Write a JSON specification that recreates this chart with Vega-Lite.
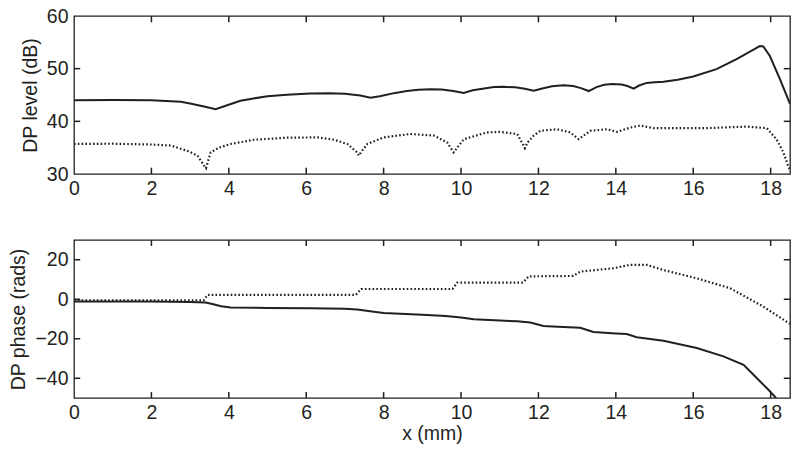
{
  "$schema": "https://vega.github.io/schema/vega-lite/v6.json",
  "padding": {"left": 8, "top": 5, "right": 5, "bottom": 5},
  "background": "white",
  "config": {
    "font": "Liberation Sans",
    "view": {"stroke": "#231f20", "strokeWidth": 1.3},
    "axis": {
      "labelFont": "Liberation Sans", "labelFontSize": 19.5, "labelColor": "#231f20",
      "titleFont": "Liberation Sans", "titleFontSize": 19.5, "titleFontWeight": "normal", "titleColor": "#231f20",
      "ticks": false, "labelPadding": 5,
      "domain": false, "grid": false, "labelFlush": false, "labelOverlap": false
    }
  },
  "datasets": {
    "xt": [{"x": 2}, {"x": 4}, {"x": 6}, {"x": 8}, {"x": 10}, {"x": 12}, {"x": 14}, {"x": 16}, {"x": 18}],
    "ytl": [{"y": 40}, {"y": 50}],
    "ytp": [{"y": -40}, {"y": -20}, {"y": 0}, {"y": 20}],
    "level": [
      {"s": "solid", "x": 0, "y": 44.0}, {"s": "solid", "x": 1, "y": 44.05}, {"s": "solid", "x": 2, "y": 44.0},
      {"s": "solid", "x": 2.5, "y": 43.8}, {"s": "solid", "x": 2.76, "y": 43.7}, {"s": "solid", "x": 3.0, "y": 43.4},
      {"s": "solid", "x": 3.36, "y": 42.8}, {"s": "solid", "x": 3.66, "y": 42.3}, {"s": "solid", "x": 3.9, "y": 42.9},
      {"s": "solid", "x": 4.3, "y": 43.9}, {"s": "solid", "x": 4.6, "y": 44.3}, {"s": "solid", "x": 5.0, "y": 44.75},
      {"s": "solid", "x": 5.5, "y": 45.05}, {"s": "solid", "x": 6.1, "y": 45.3}, {"s": "solid", "x": 6.6, "y": 45.35},
      {"s": "solid", "x": 7.0, "y": 45.25}, {"s": "solid", "x": 7.4, "y": 44.9}, {"s": "solid", "x": 7.66, "y": 44.5},
      {"s": "solid", "x": 7.9, "y": 44.75}, {"s": "solid", "x": 8.3, "y": 45.4}, {"s": "solid", "x": 8.6, "y": 45.75},
      {"s": "solid", "x": 8.9, "y": 46.0}, {"s": "solid", "x": 9.2, "y": 46.1}, {"s": "solid", "x": 9.5, "y": 46.05},
      {"s": "solid", "x": 9.8, "y": 45.75}, {"s": "solid", "x": 10.07, "y": 45.4}, {"s": "solid", "x": 10.3, "y": 45.9},
      {"s": "solid", "x": 10.6, "y": 46.25}, {"s": "solid", "x": 10.85, "y": 46.5}, {"s": "solid", "x": 11.1, "y": 46.55},
      {"s": "solid", "x": 11.4, "y": 46.45}, {"s": "solid", "x": 11.65, "y": 46.2}, {"s": "solid", "x": 11.88, "y": 45.8},
      {"s": "solid", "x": 12.1, "y": 46.25}, {"s": "solid", "x": 12.35, "y": 46.65}, {"s": "solid", "x": 12.65, "y": 46.86},
      {"s": "solid", "x": 12.9, "y": 46.7}, {"s": "solid", "x": 13.1, "y": 46.3}, {"s": "solid", "x": 13.3, "y": 45.75},
      {"s": "solid", "x": 13.5, "y": 46.5}, {"s": "solid", "x": 13.7, "y": 46.95}, {"s": "solid", "x": 13.9, "y": 47.1},
      {"s": "solid", "x": 14.15, "y": 47.0}, {"s": "solid", "x": 14.3, "y": 46.7}, {"s": "solid", "x": 14.46, "y": 46.2},
      {"s": "solid", "x": 14.6, "y": 46.8}, {"s": "solid", "x": 14.8, "y": 47.3}, {"s": "solid", "x": 15.0, "y": 47.4},
      {"s": "solid", "x": 15.23, "y": 47.5}, {"s": "solid", "x": 15.6, "y": 47.9},
      {"s": "solid", "x": 16.0, "y": 48.5}, {"s": "solid", "x": 16.6, "y": 49.9}, {"s": "solid", "x": 17.12, "y": 51.8},
      {"s": "solid", "x": 17.5, "y": 53.4}, {"s": "solid", "x": 17.72, "y": 54.3}, {"s": "solid", "x": 17.81, "y": 54.2},
      {"s": "solid", "x": 17.98, "y": 52.4}, {"s": "solid", "x": 18.24, "y": 48.0}, {"s": "solid", "x": 18.5, "y": 43.3},
      {"s": "dotted", "x": 0, "y": 35.7}, {"s": "dotted", "x": 1, "y": 35.75}, {"s": "dotted", "x": 2, "y": 35.6},
      {"s": "dotted", "x": 2.5, "y": 35.4}, {"s": "dotted", "x": 2.93, "y": 34.4}, {"s": "dotted", "x": 3.19, "y": 33.5},
      {"s": "dotted", "x": 3.36, "y": 31.6}, {"s": "dotted", "x": 3.41, "y": 31.1}, {"s": "dotted", "x": 3.53, "y": 34.1},
      {"s": "dotted", "x": 3.75, "y": 35.0}, {"s": "dotted", "x": 4.05, "y": 35.7}, {"s": "dotted", "x": 4.65, "y": 36.5},
      {"s": "dotted", "x": 5.5, "y": 36.9}, {"s": "dotted", "x": 6.3, "y": 36.95}, {"s": "dotted", "x": 6.72, "y": 36.5},
      {"s": "dotted", "x": 7.06, "y": 35.7}, {"s": "dotted", "x": 7.32, "y": 34.1}, {"s": "dotted", "x": 7.36, "y": 33.5},
      {"s": "dotted", "x": 7.45, "y": 34.5}, {"s": "dotted", "x": 7.58, "y": 35.7}, {"s": "dotted", "x": 8.0, "y": 36.95},
      {"s": "dotted", "x": 8.69, "y": 37.6}, {"s": "dotted", "x": 9.3, "y": 37.3}, {"s": "dotted", "x": 9.64, "y": 36.0},
      {"s": "dotted", "x": 9.81, "y": 34.1}, {"s": "dotted", "x": 9.9, "y": 35.0}, {"s": "dotted", "x": 10.07, "y": 36.6},
      {"s": "dotted", "x": 10.67, "y": 37.9}, {"s": "dotted", "x": 11.0, "y": 38.0}, {"s": "dotted", "x": 11.45, "y": 37.6},
      {"s": "dotted", "x": 11.62, "y": 35.4}, {"s": "dotted", "x": 11.65, "y": 34.9}, {"s": "dotted", "x": 11.72, "y": 36.0},
      {"s": "dotted", "x": 11.88, "y": 37.3}, {"s": "dotted", "x": 12.05, "y": 38.2}, {"s": "dotted", "x": 12.48, "y": 38.5},
      {"s": "dotted", "x": 12.82, "y": 37.9}, {"s": "dotted", "x": 13.04, "y": 36.6}, {"s": "dotted", "x": 13.34, "y": 38.2},
      {"s": "dotted", "x": 13.77, "y": 38.5}, {"s": "dotted", "x": 14.03, "y": 38.0}, {"s": "dotted", "x": 14.37, "y": 38.8},
      {"s": "dotted", "x": 14.63, "y": 39.2}, {"s": "dotted", "x": 14.97, "y": 38.7}, {"s": "dotted", "x": 16.3, "y": 38.7},
      {"s": "dotted", "x": 17.38, "y": 39.0}, {"s": "dotted", "x": 17.9, "y": 38.7}, {"s": "dotted", "x": 18.15, "y": 36.6},
      {"s": "dotted", "x": 18.33, "y": 34.1}, {"s": "dotted", "x": 18.45, "y": 31.6}, {"s": "dotted", "x": 18.5, "y": 30.8}
    ],
    "phase": [
      {"s": "solid", "x": 0, "y": -1.1}, {"s": "solid", "x": 1, "y": -1.1}, {"s": "solid", "x": 2, "y": -1.2},
      {"s": "solid", "x": 3, "y": -1.4}, {"s": "solid", "x": 3.4, "y": -1.7}, {"s": "solid", "x": 3.6, "y": -2.5},
      {"s": "solid", "x": 3.8, "y": -3.5}, {"s": "solid", "x": 4.05, "y": -4.2}, {"s": "solid", "x": 5, "y": -4.4},
      {"s": "solid", "x": 6.1, "y": -4.5}, {"s": "solid", "x": 7.0, "y": -4.8}, {"s": "solid", "x": 7.32, "y": -5.2},
      {"s": "solid", "x": 7.7, "y": -6.2}, {"s": "solid", "x": 8.0, "y": -7.0}, {"s": "solid", "x": 9.0, "y": -7.8},
      {"s": "solid", "x": 9.6, "y": -8.5}, {"s": "solid", "x": 10.0, "y": -9.3}, {"s": "solid", "x": 10.33, "y": -10.1},
      {"s": "solid", "x": 11.0, "y": -10.8}, {"s": "solid", "x": 11.45, "y": -11.2}, {"s": "solid", "x": 11.79, "y": -11.8},
      {"s": "solid", "x": 12.13, "y": -13.5}, {"s": "solid", "x": 12.5, "y": -13.9}, {"s": "solid", "x": 13.08, "y": -14.4},
      {"s": "solid", "x": 13.42, "y": -16.6}, {"s": "solid", "x": 14.0, "y": -17.3}, {"s": "solid", "x": 14.28, "y": -17.6},
      {"s": "solid", "x": 14.54, "y": -19.2}, {"s": "solid", "x": 15.23, "y": -21.0}, {"s": "solid", "x": 16.09, "y": -24.7},
      {"s": "solid", "x": 16.78, "y": -28.9}, {"s": "solid", "x": 17.3, "y": -33.2}, {"s": "solid", "x": 17.64, "y": -39.9},
      {"s": "solid", "x": 17.98, "y": -46.6}, {"s": "solid", "x": 18.14, "y": -50},
      {"s": "dotted", "x": 0, "y": -0.6}, {"s": "dotted", "x": 3.35, "y": -0.6}, {"s": "dotted", "x": 3.45, "y": 2.2},
      {"s": "dotted", "x": 7.28, "y": 2.2}, {"s": "dotted", "x": 7.42, "y": 5.2}, {"s": "dotted", "x": 9.78, "y": 5.2},
      {"s": "dotted", "x": 9.9, "y": 8.45}, {"s": "dotted", "x": 11.6, "y": 8.45}, {"s": "dotted", "x": 11.75, "y": 11.6},
      {"s": "dotted", "x": 12.9, "y": 11.8}, {"s": "dotted", "x": 13.08, "y": 14.0}, {"s": "dotted", "x": 13.94, "y": 15.7},
      {"s": "dotted", "x": 14.37, "y": 17.4}, {"s": "dotted", "x": 14.8, "y": 17.4}, {"s": "dotted", "x": 15.23, "y": 14.8},
      {"s": "dotted", "x": 16.09, "y": 10.6}, {"s": "dotted", "x": 16.95, "y": 5.6}, {"s": "dotted", "x": 17.81, "y": -3.7},
      {"s": "dotted", "x": 18.5, "y": -12.5}
    ]
  },
  "spacing": 39,
  "vconcat": [
    {
      "width": 716, "height": 158,
      "layer": [
        {
          "data": {"name": "level"},
          "transform": [{"filter": "datum.s == 'solid'"}],
          "mark": {"type": "line", "color": "#231f20", "strokeWidth": 2, "clip": true},
          "encoding": {
            "x": {"field": "x", "type": "quantitative", "scale": {"domain": [0, 18.5], "nice": false, "zero": false},
                  "axis": {"orient": "bottom", "title": null, "values": [0, 2, 4, 6, 8, 10, 12, 14, 16, 18]}},
            "y": {"field": "y", "type": "quantitative", "scale": {"domain": [30, 60], "nice": false, "zero": false},
                  "axis": {"orient": "left", "title": "DP level (dB)", "values": [30, 40, 50, 60], "labelPadding": 6, "titlePadding": 6}}
          }
        },
        {
          "data": {"name": "level"},
          "transform": [{"filter": "datum.s == 'dotted'"}],
          "mark": {"type": "line", "color": "#231f20", "strokeWidth": 2.2, "strokeDash": [1.6, 2.2], "clip": true},
          "encoding": {
            "x": {"field": "x", "type": "quantitative"},
            "y": {"field": "y", "type": "quantitative"}
          }
        },
        {
          "data": {"name": "xt"},
          "mark": {"type": "rule", "color": "#231f20", "strokeWidth": 1.5},
          "encoding": {"x": {"field": "x", "type": "quantitative"}, "y": {"datum": 60, "type": "quantitative"}, "y2": {"datum": 58.8}}
        },
        {
          "data": {"name": "xt"},
          "mark": {"type": "rule", "color": "#231f20", "strokeWidth": 1.5},
          "encoding": {"x": {"field": "x", "type": "quantitative"}, "y": {"datum": 30, "type": "quantitative"}, "y2": {"datum": 31.2}}
        },
        {
          "data": {"name": "ytl"},
          "mark": {"type": "rule", "color": "#231f20", "strokeWidth": 1.5},
          "encoding": {"y": {"field": "y", "type": "quantitative"}, "x": {"datum": 0, "type": "quantitative"}, "x2": {"datum": 0.16}}
        },
        {
          "data": {"name": "ytl"},
          "mark": {"type": "rule", "color": "#231f20", "strokeWidth": 1.5},
          "encoding": {"y": {"field": "y", "type": "quantitative"}, "x": {"datum": 18.5, "type": "quantitative"}, "x2": {"datum": 18.34}}
        }
      ]
    },
    {
      "width": 716, "height": 158,
      "layer": [
        {
          "data": {"name": "phase"},
          "transform": [{"filter": "datum.s == 'solid'"}],
          "mark": {"type": "line", "color": "#231f20", "strokeWidth": 2, "clip": true},
          "encoding": {
            "x": {"field": "x", "type": "quantitative", "scale": {"domain": [0, 18.5], "nice": false, "zero": false},
                  "axis": {"orient": "bottom", "title": "x (mm)", "titlePadding": 3, "values": [0, 2, 4, 6, 8, 10, 12, 14, 16, 18]}},
            "y": {"field": "y", "type": "quantitative", "scale": {"domain": [-50, 30], "nice": false, "zero": false},
                  "axis": {"orient": "left", "title": "DP phase (rads)", "values": [-40, -20, 0, 20], "labelPadding": 6, "titlePadding": 6}}
          }
        },
        {
          "data": {"name": "phase"},
          "transform": [{"filter": "datum.s == 'dotted'"}],
          "mark": {"type": "line", "color": "#231f20", "strokeWidth": 2.2, "strokeDash": [1.6, 2.2], "clip": true},
          "encoding": {
            "x": {"field": "x", "type": "quantitative"},
            "y": {"field": "y", "type": "quantitative"}
          }
        },
        {
          "data": {"name": "xt"},
          "mark": {"type": "rule", "color": "#231f20", "strokeWidth": 1.5},
          "encoding": {"x": {"field": "x", "type": "quantitative"}, "y": {"datum": 30, "type": "quantitative"}, "y2": {"datum": 27}}
        },
        {
          "data": {"name": "xt"},
          "mark": {"type": "rule", "color": "#231f20", "strokeWidth": 1.5},
          "encoding": {"x": {"field": "x", "type": "quantitative"}, "y": {"datum": -50, "type": "quantitative"}, "y2": {"datum": -47}}
        },
        {
          "data": {"name": "ytp"},
          "mark": {"type": "rule", "color": "#231f20", "strokeWidth": 1.5},
          "encoding": {"y": {"field": "y", "type": "quantitative"}, "x": {"datum": 0, "type": "quantitative"}, "x2": {"datum": 0.16}}
        },
        {
          "data": {"name": "ytp"},
          "mark": {"type": "rule", "color": "#231f20", "strokeWidth": 1.5},
          "encoding": {"y": {"field": "y", "type": "quantitative"}, "x": {"datum": 18.5, "type": "quantitative"}, "x2": {"datum": 18.34}}
        }
      ]
    }
  ]
}
